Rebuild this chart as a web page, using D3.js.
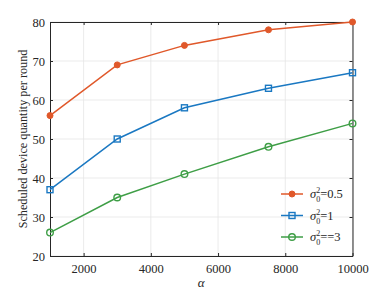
<!DOCTYPE html>
<html>
<head>
<meta charset="utf-8">
<script src="https://cdn.jsdelivr.net/npm/d3@7"></script>
<style>
  body { margin: 0; background: #fff; }
  svg text { font-family: "Liberation Serif", "DejaVu Serif", serif !important; }
</style>
</head>
<body>
<div id="chart"></div>
<script>
// Data
const alphas = [1000, 3000, 5000, 7500, 10000];
const s05 = [56, 69, 74, 78, 80];
const s1 = [37, 50, 58, 63, 67];
const s3 = [26, 35, 41, 48, 54];
const xTicks = [2000, 4000, 6000, 8000, 10000];
const yTicks = [20, 30, 40, 50, 60, 70, 80];

const width = 390, height = 292;
const m = { left: 50, right: 37.5, top: 22, bottom: 36 };
const serif = '"Liberation Serif", "DejaVu Serif", serif';

const svg = d3.select('#chart').append('svg')
    .attr('width', width)
    .attr('height', height);

const x = d3.scaleLinear().domain([1000, 10000]).range([m.left, width - m.right]);
const y = d3.scaleLinear().domain([20, 80]).range([height - m.bottom, m.top]);

// grid
svg.append('g').selectAll('line').data(xTicks).enter().append('line')
    .attr('x1', d => x(d)).attr('x2', d => x(d))
    .attr('y1', y(20)).attr('y2', y(80))
    .attr('stroke', '#e6e6e6').attr('stroke-width', 0.8);
svg.append('g').selectAll('line').data(yTicks).enter().append('line')
    .attr('x1', x(1000)).attr('x2', x(10000))
    .attr('y1', d => y(d)).attr('y2', d => y(d))
    .attr('stroke', '#e6e6e6').attr('stroke-width', 0.8);

// axes (ticks inward, box)
const axisStyle = g => {
    g.attr('font-family', serif);
    g.select('.domain').attr('stroke', '#262626');
    g.selectAll('.tick line').attr('stroke', '#262626');
    g.selectAll('.tick text').attr('fill', '#262626').attr('font-size', 12.5);
};
svg.append('g').attr('transform', `translate(0,${y(20)})`)
    .call(d3.axisBottom(x).tickValues(xTicks).tickFormat(d3.format('d'))
        .tickSizeInner(-3).tickSizeOuter(0).tickPadding(8))
    .call(axisStyle);
svg.append('g').attr('transform', `translate(${x(1000)},0)`)
    .call(d3.axisLeft(y).tickValues(yTicks).tickSizeInner(-3).tickSizeOuter(0).tickPadding(5))
    .call(axisStyle);
svg.append('g').attr('transform', `translate(0,${y(80)})`)
    .call(d3.axisTop(x).tickValues(xTicks).tickSizeInner(-3).tickSizeOuter(0).tickFormat(''))
    .call(axisStyle);
svg.append('g').attr('transform', `translate(${x(10000)},0)`)
    .call(d3.axisRight(y).tickValues(yTicks).tickSizeInner(-3).tickSizeOuter(0).tickFormat(''))
    .call(axisStyle);

// axis labels
svg.append('text')
    .attr('x', x(5500)).attr('y', height - 5)
    .attr('text-anchor', 'middle').attr('font-size', 13).attr('font-style', 'italic')
    .attr('fill', '#262626').text('α');
svg.append('text')
    .attr('transform', `translate(27,${(y(20) + y(80)) / 2}) rotate(-90)`)
    .attr('text-anchor', 'middle').attr('font-size', 12.2)
    .attr('fill', '#262626').text('Scheduled device quantity per round');

// series
const series = [
    { name: '=0.5', values: s05, color: '#E0582A', marker: 'dot' },
    { name: '=1', values: s1, color: '#1A78C2', marker: 'square' },
    { name: '==3', values: s3, color: '#3E9E46', marker: 'circle' }
];

const line = d3.line().x((d, i) => x(alphas[i])).y(d => y(d));

function drawMarker(g, mk, color, cx, cy) {
    if (mk === 'dot') {
        g.append('circle').attr('cx', cx).attr('cy', cy).attr('r', 3)
            .attr('fill', color).attr('stroke', color);
    } else if (mk === 'square') {
        g.append('rect').attr('x', cx - 3).attr('y', cy - 3).attr('width', 6).attr('height', 6)
            .attr('fill', 'none').attr('stroke', color).attr('stroke-width', 1.4);
    } else {
        g.append('circle').attr('cx', cx).attr('cy', cy).attr('r', 3.3)
            .attr('fill', 'none').attr('stroke', color).attr('stroke-width', 1.4);
    }
}

series.forEach(s => {
    svg.append('path').datum(s.values)
        .attr('d', line).attr('fill', 'none')
        .attr('stroke', s.color).attr('stroke-width', 1.5);
    const g = svg.append('g');
    s.values.forEach((v, i) => drawMarker(g, s.marker, s.color, x(alphas[i]), y(v)));
});

// legend
const legend = svg.append('g');
series.forEach((s, i) => {
    const ly = 194 + i * 21.5;
    legend.append('line')
        .attr('x1', 281).attr('x2', 303).attr('y1', ly).attr('y2', ly)
        .attr('stroke', s.color).attr('stroke-width', 1.5);
    drawMarker(legend, s.marker, s.color, 292, ly);
    const t = legend.append('text').attr('x', 310).attr('y', ly + 4)
        .attr('font-size', 12.5).attr('fill', '#262626');
    t.append('tspan').attr('font-style', 'italic').text('σ');
    t.append('tspan').attr('font-size', 8).attr('dy', -5).text('2');
    t.append('tspan').attr('font-size', 8).attr('dx', -4).attr('dy', 9).text('0');
    t.append('tspan').attr('dy', -4).text(s.name);
});
</script>
</body>
</html>
